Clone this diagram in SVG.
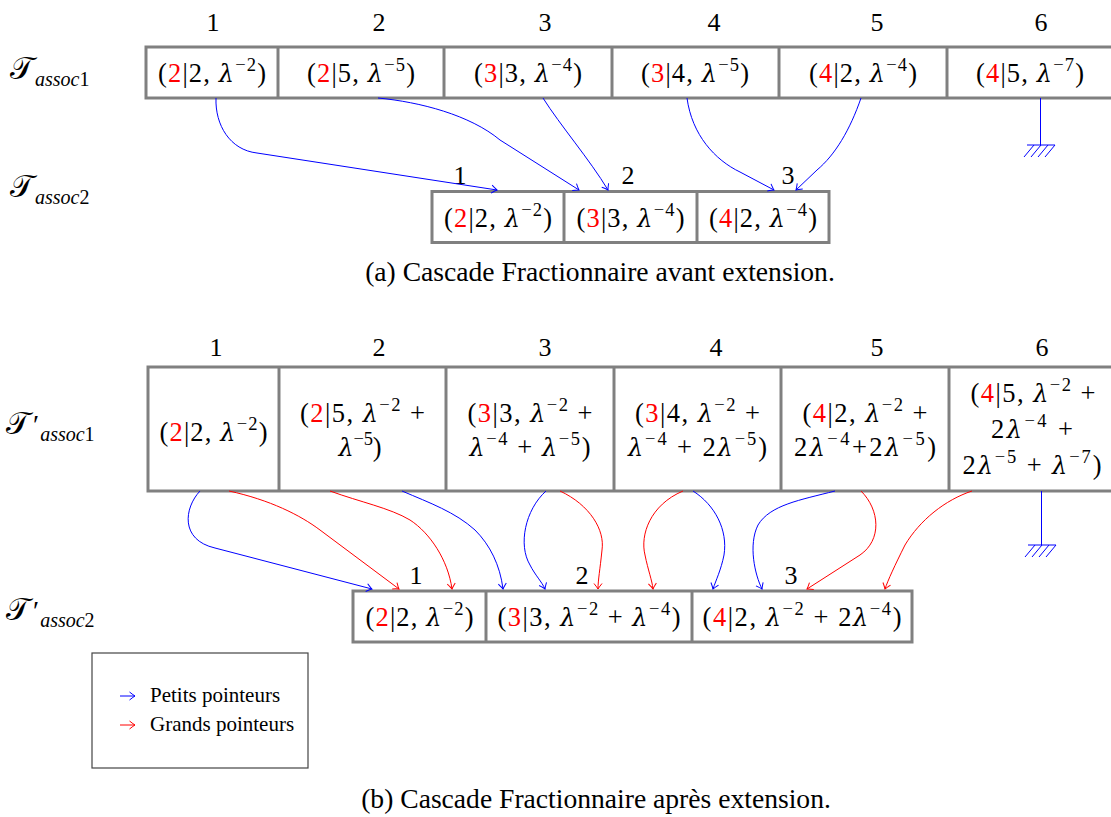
<svg xmlns="http://www.w3.org/2000/svg" width="1111" height="817" viewBox="0 0 1111 817">
<defs>
<marker id="ab" markerWidth="12" markerHeight="12" refX="0" refY="0" viewBox="-7 -6 8 12" orient="auto" markerUnits="userSpaceOnUse"><path d="M-5.5,-4 Q-1.5,-0.8 0,0 Q-1.5,0.8 -5.5,4" fill="none" stroke="#0000ff" stroke-width="1"/></marker>
<marker id="ar" markerWidth="12" markerHeight="12" refX="0" refY="0" viewBox="-7 -6 8 12" orient="auto" markerUnits="userSpaceOnUse"><path d="M-5.5,-4 Q-1.5,-0.8 0,0 Q-1.5,0.8 -5.5,4" fill="none" stroke="#ff0000" stroke-width="1"/></marker>
</defs>
<style>
text{font-family:"Liberation Serif","Times New Roman",serif;fill:#000}
.cell{fill:#fff;stroke:#808080;stroke-width:3}
.sep{stroke:#808080;stroke-width:3}
.t{font-size:26.5px;text-anchor:middle}
.num{font-size:26px;text-anchor:middle}
.r{fill:#ff0000}
.i{font-style:italic}
.l{font-family:"DejaVu Serif","Liberation Serif",serif;font-style:italic;font-size:24px}
.s{font-size:18.5px}
.cal{font-family:"DejaVu Serif","DejaVu Sans",serif;font-size:31px}
.sub{font-size:20px}
.b{fill:none;stroke:#0000ff;stroke-width:1}
.rd{fill:none;stroke:#ff0000;stroke-width:1}
.gnd{stroke:#0000ff;stroke-width:1;fill:none}
.cap{font-size:27.6px;text-anchor:middle}
.leg{font-size:21px}
</style>
<rect width="1111" height="817" fill="#fff"/>

<!-- ===== (a) ===== -->
<g id="labels-a">
<text class="num" x="213" y="31">1</text>
<text class="num" x="379" y="31">2</text>
<text class="num" x="545" y="31">3</text>
<text class="num" x="714" y="31">4</text>
<text class="num" x="877" y="31">5</text>
<text class="num" x="1041" y="31">6</text>
<text x="10" y="79"><tspan class="cal">𝒯</tspan><tspan class="sub i" dy="7" dx="1">assoc</tspan><tspan class="sub">1</tspan></text>
<text x="10" y="197"><tspan class="cal">𝒯</tspan><tspan class="sub i" dy="7" dx="1">assoc</tspan><tspan class="sub">2</tspan></text>
<text class="num" x="460" y="184">1</text>
<text class="num" x="628" y="184">2</text>
<text class="num" x="788" y="184">3</text>
</g>

<g id="t1">
<rect class="cell" x="146" y="47" width="975" height="51"/>
<g id="t1c1"><line class="sep" x1="278" y1="47" x2="278" y2="98"/><text class="t" x="212" y="82" textLength="108" lengthAdjust="spacing">(<tspan class="r">2</tspan>|2, <tspan class="l">λ</tspan><tspan class="s" dy="-11">−2</tspan><tspan dy="11">)</tspan></text></g>
<g id="t1c2"><line class="sep" x1="444" y1="47" x2="444" y2="98"/><text class="t" x="361" y="82" textLength="108" lengthAdjust="spacing">(<tspan class="r">2</tspan>|5, <tspan class="l">λ</tspan><tspan class="s" dy="-11">−5</tspan><tspan dy="11">)</tspan></text></g>
<g id="t1c3"><line class="sep" x1="612" y1="47" x2="612" y2="98"/><text class="t" x="528" y="82" textLength="108" lengthAdjust="spacing">(<tspan class="r">3</tspan>|3, <tspan class="l">λ</tspan><tspan class="s" dy="-11">−4</tspan><tspan dy="11">)</tspan></text></g>
<g id="t1c4"><line class="sep" x1="779" y1="47" x2="779" y2="98"/><text class="t" x="695" y="82" textLength="108" lengthAdjust="spacing">(<tspan class="r">3</tspan>|4, <tspan class="l">λ</tspan><tspan class="s" dy="-11">−5</tspan><tspan dy="11">)</tspan></text></g>
<g id="t1c5"><line class="sep" x1="947" y1="47" x2="947" y2="98"/><text class="t" x="863" y="82" textLength="108" lengthAdjust="spacing">(<tspan class="r">4</tspan>|2, <tspan class="l">λ</tspan><tspan class="s" dy="-11">−4</tspan><tspan dy="11">)</tspan></text></g>
<g id="t1c6"><text class="t" x="1030" y="82" textLength="108" lengthAdjust="spacing">(<tspan class="r">4</tspan>|5, <tspan class="l">λ</tspan><tspan class="s" dy="-11">−7</tspan><tspan dy="11">)</tspan></text></g>
</g>

<g id="t2">
<rect class="cell" x="432" y="191.5" width="397" height="51"/>
<line class="sep" x1="564" y1="191.5" x2="564" y2="242.5"/>
<line class="sep" x1="697" y1="191.5" x2="697" y2="242.5"/>
<g id="t2c1"><text class="t" x="498" y="227" textLength="108" lengthAdjust="spacing">(<tspan class="r">2</tspan>|2, <tspan class="l">λ</tspan><tspan class="s" dy="-11">−2</tspan><tspan dy="11">)</tspan></text></g>
<g id="t2c2"><text class="t" x="630.5" y="227" textLength="108" lengthAdjust="spacing">(<tspan class="r">3</tspan>|3, <tspan class="l">λ</tspan><tspan class="s" dy="-11">−4</tspan><tspan dy="11">)</tspan></text></g>
<g id="t2c3"><text class="t" x="763" y="227" textLength="108" lengthAdjust="spacing">(<tspan class="r">4</tspan>|2, <tspan class="l">λ</tspan><tspan class="s" dy="-11">−4</tspan><tspan dy="11">)</tspan></text></g>
</g>

<g id="ground-a">
<line class="gnd" x1="1040.5" y1="98" x2="1040.5" y2="145"/>
<line class="gnd" x1="1027" y1="145" x2="1055" y2="145"/>
<path class="gnd" d="M1034,145 l-10,12 M1041,145 l-10,12 M1048,145 l-10,12 M1055,145 l-10,12"/>
</g>

<g id="connectors-a">
<path class="b" marker-end="url(#ab)" d="M216,98 C215,125 230,150 257,153 L497,190"/>
<path class="b" marker-end="url(#ab)" d="M378,98 C420,102 470,115 500,140 L579,190"/>
<path class="b" marker-end="url(#ab)" d="M543,98 C560,125 590,160 608,190"/>
<path class="b" marker-end="url(#ab)" d="M687,98 C692,135 715,160 740,172 L774,190"/>
<path class="b" marker-end="url(#ab)" d="M861,98 C850,130 835,155 817,170 L796,190"/>
</g>

<text id="cap-a" class="cap" x="600" y="281">(a) Cascade Fractionnaire avant extension.</text>

<!-- ===== (b) ===== -->
<g id="labels-b">
<text class="num" x="216" y="356">1</text>
<text class="num" x="379" y="356">2</text>
<text class="num" x="545" y="356">3</text>
<text class="num" x="716" y="356">4</text>
<text class="num" x="877" y="356">5</text>
<text class="num" x="1042" y="356">6</text>
<text x="6" y="434"><tspan class="cal">𝒯</tspan><tspan font-size="28" dx="3">′</tspan><tspan class="sub i" dy="7" dx="1">assoc</tspan><tspan class="sub">1</tspan></text>
<text x="6" y="620"><tspan class="cal">𝒯</tspan><tspan font-size="28" dx="3">′</tspan><tspan class="sub i" dy="7" dx="1">assoc</tspan><tspan class="sub">2</tspan></text>
<text class="num" x="416" y="584">1</text>
<text class="num" x="582" y="584">2</text>
<text class="num" x="791" y="584">3</text>
</g>

<g id="t3">
<rect class="cell" x="148" y="367" width="975" height="124"/>
<g id="t3c1"><line class="sep" x1="279" y1="367" x2="279" y2="491"/><text class="t" x="213.5" y="441" textLength="108" lengthAdjust="spacing">(<tspan class="r">2</tspan>|2, <tspan class="l">λ</tspan><tspan class="s" dy="-11">−2</tspan><tspan dy="11">)</tspan></text></g>
<g id="t3c2"><line class="sep" x1="446" y1="367" x2="446" y2="491"/>
<text class="t" x="362.5" y="422" textLength="125" lengthAdjust="spacing">(<tspan class="r">2</tspan>|5, <tspan class="l">λ</tspan><tspan class="s" dy="-11">−2</tspan><tspan dy="11"> +</tspan></text>
<text class="t" x="360" y="456" textLength="43" lengthAdjust="spacing"><tspan class="l">λ</tspan><tspan class="s" dy="-11">−5</tspan><tspan dy="11">)</tspan></text></g>
<g id="t3c3"><line class="sep" x1="614" y1="367" x2="614" y2="491"/>
<text class="t" x="530" y="422" textLength="125" lengthAdjust="spacing">(<tspan class="r">3</tspan>|3, <tspan class="l">λ</tspan><tspan class="s" dy="-11">−2</tspan><tspan dy="11"> +</tspan></text>
<text class="t" x="530" y="456" textLength="121" lengthAdjust="spacing"><tspan class="l">λ</tspan><tspan class="s" dy="-11">−4</tspan><tspan dy="11"> + </tspan><tspan class="l">λ</tspan><tspan class="s" dy="-11">−5</tspan><tspan dy="11">)</tspan></text></g>
<g id="t3c4"><line class="sep" x1="781" y1="367" x2="781" y2="491"/>
<text class="t" x="697.5" y="422" textLength="125" lengthAdjust="spacing">(<tspan class="r">3</tspan>|4, <tspan class="l">λ</tspan><tspan class="s" dy="-11">−2</tspan><tspan dy="11"> +</tspan></text>
<text class="t" x="697.5" y="456" textLength="139" lengthAdjust="spacing"><tspan class="l">λ</tspan><tspan class="s" dy="-11">−4</tspan><tspan dy="11"> + 2</tspan><tspan class="l">λ</tspan><tspan class="s" dy="-11">−5</tspan><tspan dy="11">)</tspan></text></g>
<g id="t3c5"><line class="sep" x1="949" y1="367" x2="949" y2="491"/>
<text class="t" x="865" y="422" textLength="125" lengthAdjust="spacing">(<tspan class="r">4</tspan>|2, <tspan class="l">λ</tspan><tspan class="s" dy="-11">−2</tspan><tspan dy="11"> +</tspan></text>
<text class="t" x="865" y="456" textLength="142" lengthAdjust="spacing">2<tspan class="l">λ</tspan><tspan class="s" dy="-11">−4</tspan><tspan dy="11">+2</tspan><tspan class="l">λ</tspan><tspan class="s" dy="-11">−5</tspan><tspan dy="11">)</tspan></text></g>
<g id="t3c6">
<text class="t" x="1033" y="402" textLength="125" lengthAdjust="spacing">(<tspan class="r">4</tspan>|5, <tspan class="l">λ</tspan><tspan class="s" dy="-11">−2</tspan><tspan dy="11"> +</tspan></text>
<text class="t" x="1032" y="438" textLength="82" lengthAdjust="spacing">2<tspan class="l">λ</tspan><tspan class="s" dy="-11">−4</tspan><tspan dy="11"> +</tspan></text>
<text class="t" x="1032" y="474" textLength="139" lengthAdjust="spacing">2<tspan class="l">λ</tspan><tspan class="s" dy="-11">−5</tspan><tspan dy="11"> + </tspan><tspan class="l">λ</tspan><tspan class="s" dy="-11">−7</tspan><tspan dy="11">)</tspan></text></g>
</g>

<g id="t4">
<rect class="cell" x="353" y="591" width="559" height="51"/>
<line class="sep" x1="486" y1="591" x2="486" y2="642"/>
<line class="sep" x1="692" y1="591" x2="692" y2="642"/>
<g id="t4c1"><text class="t" x="419.5" y="626" textLength="108" lengthAdjust="spacing">(<tspan class="r">2</tspan>|2, <tspan class="l">λ</tspan><tspan class="s" dy="-11">−2</tspan><tspan dy="11">)</tspan></text></g>
<g id="t4c2"><text class="t" x="589" y="626" textLength="183" lengthAdjust="spacing">(<tspan class="r">3</tspan>|3, <tspan class="l">λ</tspan><tspan class="s" dy="-11">−2</tspan><tspan dy="11"> + </tspan><tspan class="l">λ</tspan><tspan class="s" dy="-11">−4</tspan><tspan dy="11">)</tspan></text></g>
<g id="t4c3"><text class="t" x="802" y="626" textLength="199" lengthAdjust="spacing">(<tspan class="r">4</tspan>|2, <tspan class="l">λ</tspan><tspan class="s" dy="-11">−2</tspan><tspan dy="11"> + 2</tspan><tspan class="l">λ</tspan><tspan class="s" dy="-11">−4</tspan><tspan dy="11">)</tspan></text></g>
</g>

<g id="ground-b">
<line class="gnd" x1="1041.5" y1="491" x2="1041.5" y2="545"/>
<line class="gnd" x1="1028" y1="545" x2="1056" y2="545"/>
<path class="gnd" d="M1035,545 l-10,12 M1042,545 l-10,12 M1049,545 l-10,12 M1056,545 l-10,12"/>
</g>

<g id="connectors-b">
<path class="b" marker-end="url(#ab)" d="M200,491 C184,508 180,540 215,548 L372,589"/>
<path class="rd" marker-end="url(#ar)" d="M229,491 C270,500 300,515 320,530 L399,589"/>
<path class="rd" marker-end="url(#ar)" d="M330,491 C360,502 390,508 410,520 C430,533 448,560 452,589"/>
<path class="b" marker-end="url(#ab)" d="M402,491 C430,503 455,512 475,530 C490,545 500,565 503,589"/>
<path class="b" marker-end="url(#ab)" d="M546,491 C525,510 518,545 530,565 C535,575 542,582 545,589"/>
<path class="rd" marker-end="url(#ar)" d="M560,491 C590,505 605,530 602,550 C600,570 598,580 598,589"/>
<path class="rd" marker-end="url(#ar)" d="M683,491 C650,505 640,535 645,555 C648,570 652,580 653,589"/>
<path class="b" marker-end="url(#ab)" d="M693,491 C715,505 728,530 724,555 C721,570 716,580 713,589"/>
<path class="b" marker-end="url(#ab)" d="M835,491 C800,500 770,505 758,525 C748,545 755,575 762,589"/>
<path class="rd" marker-end="url(#ar)" d="M861,491 C880,510 882,540 860,555 L807,589"/>
<path class="rd" marker-end="url(#ar)" d="M972,491 C945,500 920,520 905,545 C895,565 888,580 885,589"/>
</g>

<g id="legend">
<rect x="92" y="653" width="216" height="115" fill="#fff" stroke="#444" stroke-width="1.2"/>
<line class="b" x1="120" y1="696" x2="135" y2="696" marker-end="url(#ab)"/>
<text class="leg" x="150" y="702">Petits pointeurs</text>
<line class="rd" x1="120" y1="725" x2="135" y2="725" marker-end="url(#ar)"/>
<text class="leg" x="150" y="731">Grands pointeurs</text>
</g>

<text id="cap-b" class="cap" x="596" y="808">(b) Cascade Fractionnaire après extension.</text>
</svg>
